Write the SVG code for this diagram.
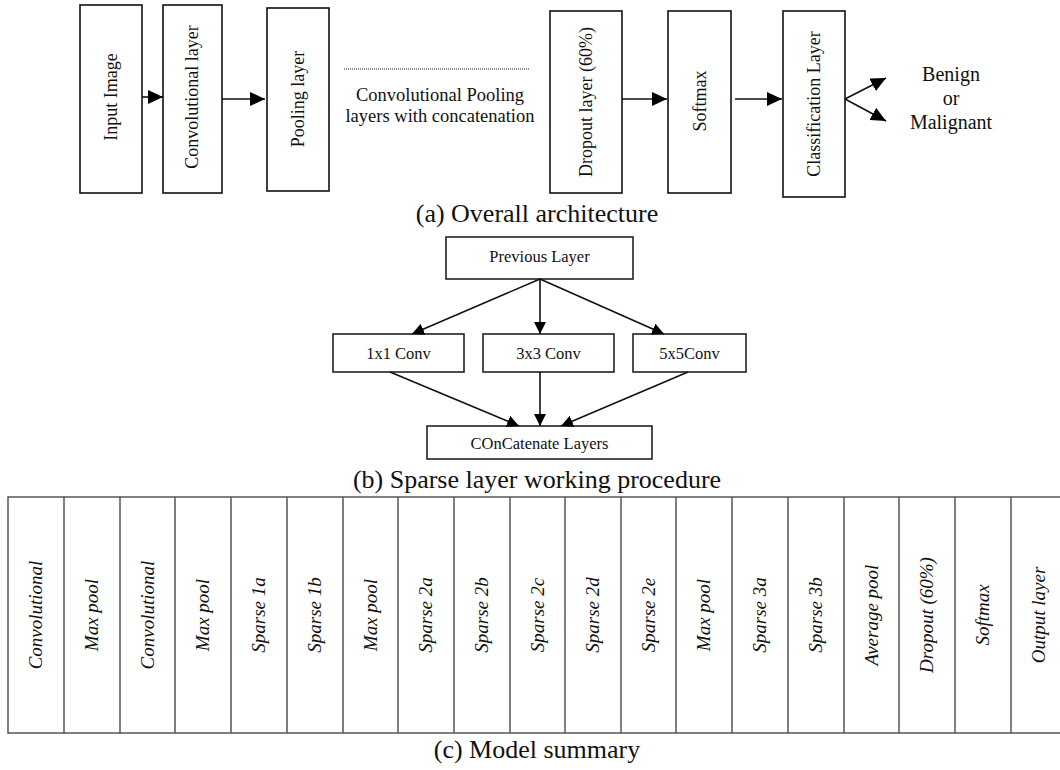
<svg xmlns="http://www.w3.org/2000/svg" width="1060" height="770" viewBox="0 0 1060 770">
<style>
.box{fill:#fff;stroke:#111;stroke-width:1.6}
.sbox{fill:#fff;stroke:#222;stroke-width:1.6}
.t{font-family:"Liberation Serif","Times New Roman",serif;fill:#111}
.rt{font-size:18px;text-anchor:middle}
.mt{font-size:16.5px;text-anchor:middle}
.cap{font-size:26px;text-anchor:middle}
.it{font-size:19px;font-style:italic;text-anchor:middle}
.ln{stroke:#111;stroke-width:1.6;fill:none}
.tl{stroke:#555;stroke-width:1.5;fill:none}
</style>
<defs>
<marker id="ah" markerUnits="userSpaceOnUse" markerWidth="16" markerHeight="14" refX="15" refY="7" orient="auto">
<path d="M0,0 L15,7 L0,14 z" fill="#000"/>
</marker>
<marker id="ahs" markerUnits="userSpaceOnUse" markerWidth="13" markerHeight="12" refX="12" refY="6" orient="auto">
<path d="M0,0 L12,6 L0,12 z" fill="#000"/>
</marker>
</defs>

<!-- (a) Overall architecture -->
<g id="input"><rect class="box" x="80" y="5" width="62" height="188"/><text class="t rt" x="111" y="97" dy="0.34em" transform="rotate(-90 111 97)">Input Image</text></g>
<g id="conv"><rect class="box" x="163" y="5" width="59" height="188"/><text class="t rt" x="192" y="97" dy="0.34em" transform="rotate(-90 192 97)">Convolutional layer</text></g>
<g id="pool"><rect class="box" x="267" y="8" width="62" height="183"/><text class="t rt" x="298" y="99" dy="0.34em" transform="rotate(-90 298 99)">Pooling layer</text></g>
<g id="middle"><line x1="344" y1="69" x2="530" y2="69" stroke="#222" stroke-width="1" stroke-dasharray="1,1"/><text class="t" x="440" y="101" font-size="18.5" text-anchor="middle">Convolutional Pooling</text><text class="t" x="440" y="122" font-size="18.5" text-anchor="middle">layers with concatenation</text></g>
<g id="dropout"><rect class="box" x="550" y="11" width="72" height="182"/><text class="t rt" x="586" y="102" dy="0.34em" transform="rotate(-90 586 102)">Dropout layer (60%)</text></g>
<g id="softmax"><rect class="box" x="668" y="11" width="63" height="182"/><text class="t rt" x="699.5" y="101" dy="0.34em" transform="rotate(-90 699.5 101)">Softmax</text></g>
<g id="classification"><rect class="box" x="783" y="11" width="62" height="186"/><text class="t rt" x="814" y="104" dy="0.34em" transform="rotate(-90 814 104)">Classification Layer</text></g>
<g id="output"><text class="t" x="951" y="81" font-size="20" text-anchor="middle">Benign</text><text class="t" x="951" y="105" font-size="20" text-anchor="middle">or</text><text class="t" x="951" y="129" font-size="20" text-anchor="middle">Malignant</text></g>
<g id="caption-a"><text class="t cap" x="537" y="222">(a) Overall architecture</text></g>

<!-- (b) Sparse layer -->
<g id="previous"><rect class="sbox" x="446" y="237" width="187" height="42"/><text class="t mt" x="539.5" y="262">Previous Layer</text></g>
<g id="conv1"><rect class="sbox" x="333" y="334" width="131" height="38"/><text class="t mt" x="398.5" y="358.5">1x1 Conv</text></g>
<g id="conv3"><rect class="sbox" x="483" y="334" width="131" height="38"/><text class="t mt" x="548.5" y="358.5">3x3 Conv</text></g>
<g id="conv5"><rect class="sbox" x="633" y="334" width="113" height="38"/><text class="t mt" x="689.5" y="358.5">5x5Conv</text></g>
<g id="concat"><rect class="sbox" x="427" y="426" width="225" height="33"/><text class="t mt" x="539.5" y="449">COnCatenate Layers</text></g>
<g id="caption-b"><text class="t cap" x="537" y="488">(b) Sparse layer working procedure</text></g>

<!-- connectors -->
<g id="connectors">
<line class="ln" x1="142" y1="97" x2="163" y2="97" marker-end="url(#ah)"/>
<line class="ln" x1="222" y1="99" x2="265" y2="99" marker-end="url(#ah)"/>
<line class="ln" x1="622" y1="99" x2="667" y2="99" marker-end="url(#ah)"/>
<line class="ln" x1="735" y1="99" x2="782" y2="99" marker-end="url(#ah)"/>
<line class="ln" x1="845" y1="99" x2="886" y2="78" marker-end="url(#ah)"/>
<line class="ln" x1="845" y1="99" x2="886" y2="121" marker-end="url(#ah)"/>
<line class="ln" x1="540" y1="279" x2="412" y2="334" marker-end="url(#ahs)"/>
<line class="ln" x1="540" y1="279" x2="540" y2="334" marker-end="url(#ahs)"/>
<line class="ln" x1="540" y1="279" x2="664" y2="334" marker-end="url(#ahs)"/>
<line class="ln" x1="390" y1="372" x2="519" y2="426" marker-end="url(#ahs)"/>
<line class="ln" x1="540" y1="372" x2="540" y2="426" marker-end="url(#ahs)"/>
<line class="ln" x1="688" y1="372" x2="561" y2="426" marker-end="url(#ahs)"/>
</g>

<!-- (c) Model summary -->
<g id="summary">
<rect class="tl" x="8" y="497" width="1060" height="236" fill="#fff"/>
<path class="tl" d="M64,497V733M120,497V733M175,497V733M231,497V733M287,497V733M343,497V733M398,497V733M454,497V733M510,497V733M565,497V733M621,497V733M676,497V733M732,497V733M788,497V733M844,497V733M899,497V733M955,497V733M1011,497V733"/>
<text class="t it" x="36" y="615" dy="0.33em" transform="rotate(-90 36 615)">Convolutional</text>
<text class="t it" x="92" y="615" dy="0.33em" transform="rotate(-90 92 615)">Max pool</text>
<text class="t it" x="147.5" y="615" dy="0.33em" transform="rotate(-90 147.5 615)">Convolutional</text>
<text class="t it" x="203" y="615" dy="0.33em" transform="rotate(-90 203 615)">Max pool</text>
<text class="t it" x="259" y="615" dy="0.33em" transform="rotate(-90 259 615)">Sparse 1a</text>
<text class="t it" x="315" y="615" dy="0.33em" transform="rotate(-90 315 615)">Sparse 1b</text>
<text class="t it" x="370.5" y="615" dy="0.33em" transform="rotate(-90 370.5 615)">Max pool</text>
<text class="t it" x="426" y="615" dy="0.33em" transform="rotate(-90 426 615)">Sparse 2a</text>
<text class="t it" x="482" y="615" dy="0.33em" transform="rotate(-90 482 615)">Sparse 2b</text>
<text class="t it" x="537.5" y="615" dy="0.33em" transform="rotate(-90 537.5 615)">Sparse 2c</text>
<text class="t it" x="593" y="615" dy="0.33em" transform="rotate(-90 593 615)">Sparse 2d</text>
<text class="t it" x="648.5" y="615" dy="0.33em" transform="rotate(-90 648.5 615)">Sparse 2e</text>
<text class="t it" x="704" y="615" dy="0.33em" transform="rotate(-90 704 615)">Max pool</text>
<text class="t it" x="760" y="615" dy="0.33em" transform="rotate(-90 760 615)">Sparse 3a</text>
<text class="t it" x="816" y="615" dy="0.33em" transform="rotate(-90 816 615)">Sparse 3b</text>
<text class="t it" x="871.5" y="615" dy="0.33em" transform="rotate(-90 871.5 615)">Average pool</text>
<text class="t it" x="927" y="615" dy="0.33em" transform="rotate(-90 927 615)">Dropout (60%)</text>
<text class="t it" x="983" y="615" dy="0.33em" transform="rotate(-90 983 615)">Softmax</text>
<text class="t it" x="1039" y="615" dy="0.33em" transform="rotate(-90 1039 615)">Output layer</text>
</g>
<g id="caption-c"><text class="t cap" x="537" y="758">(c) Model summary</text></g>
</svg>
